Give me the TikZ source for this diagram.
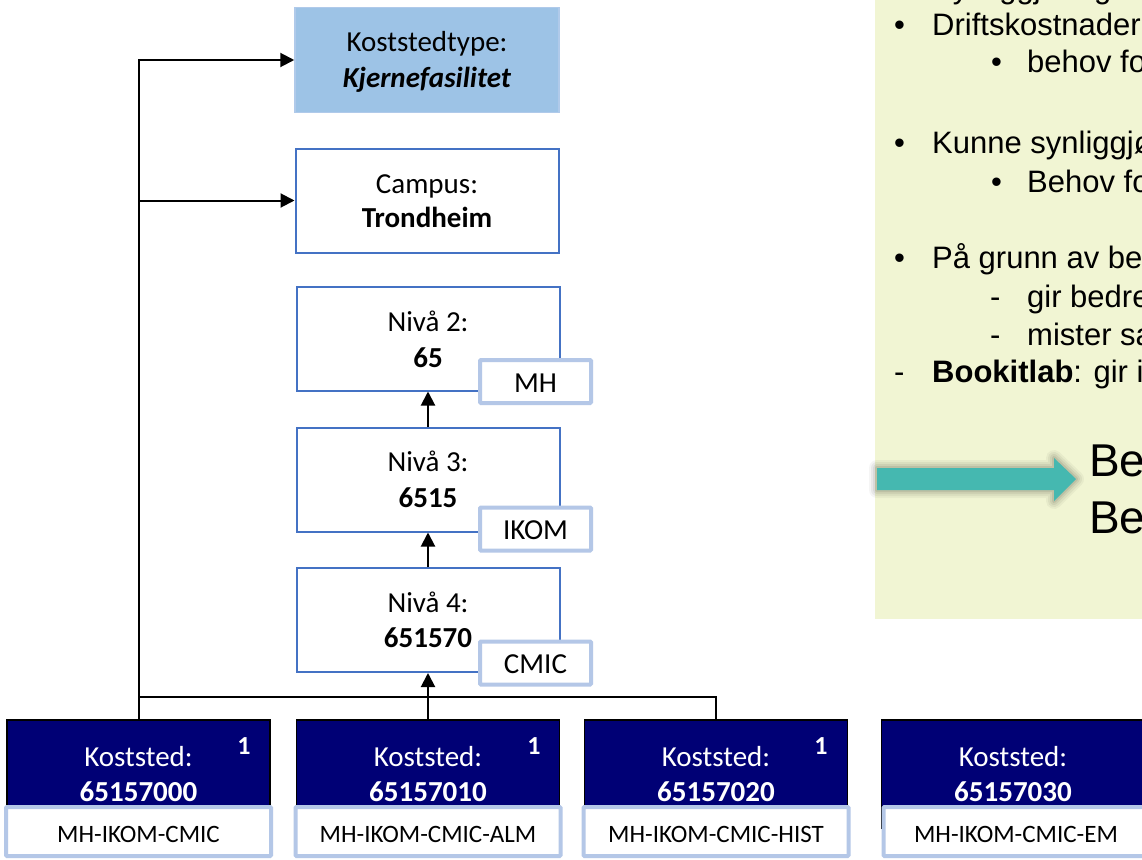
\documentclass[tikz,border=0pt]{standalone}
\usepackage{fontspec}
\setmainfont{Carlito}
\newfontfamily\arialf{Liberation Sans}
\usetikzlibrary{arrows.meta,calc}
\definecolor{navyk}{RGB}{0,0,117}
\definecolor{lvlblue}{HTML}{4472C4}
\definecolor{tagblue}{HTML}{B4C7E7}
\definecolor{ktfill}{HTML}{9DC3E6}
\definecolor{ktdraw}{HTML}{B0CAEA}
\definecolor{panelbg}{HTML}{F1F5D3}
\definecolor{tealarrow}{HTML}{45B8B0}
\begin{document}
\begin{tikzpicture}[x=1pt,y=-1pt,
  ktbox/.style={draw=ktdraw,line width=1.5pt,fill=ktfill,minimum width=264pt,minimum height=105pt,inner sep=0pt},
  lvl/.style={draw=lvlblue,line width=2pt,fill=white,minimum width=263pt,minimum height=104pt,inner sep=0pt},
  tagbox/.style={draw=tagblue,line width=4pt,fill=white,minimum width=111pt,minimum height=43pt,inner sep=0pt,rounded corners=1pt},
  kost/.style={draw=black,line width=1.5pt,fill=navyk,minimum width=263pt,minimum height=108pt,inner sep=0pt},
  ktag/.style={draw=tagblue,line width=4pt,fill=white,minimum width=265pt,minimum height=49pt,inner sep=0pt,rounded corners=1pt},
  lbl/.style={font=\fontsize{29}{35}\selectfont,inner sep=0pt,anchor=base},
  klbl/.style={font=\fontsize{29}{35}\selectfont,text=white,inner sep=0pt,anchor=base},
  one/.style={font=\bfseries\fontsize{26}{30}\selectfont,text=white,inner sep=0pt,anchor=base},
  tlbl/.style={font=\fontsize{25}{29}\selectfont,inner sep=0pt,anchor=base},
  conn/.style={draw=black,line width=2pt},
  busline/.style={draw=black,line width=1.5pt},
  tip/.style={-{Triangle[length=14pt,width=14pt]}},
  ptxt/.style={font=\arialf\fontsize{31}{37}\selectfont,text=black,anchor=base west,inner sep=0pt},
  bigtxt/.style={font=\arialf\fontsize{46}{55}\selectfont,text=black,anchor=base west,inner sep=0pt}
]
\useasboundingbox (0,0) rectangle (1142,859);
\clip (0,0) rectangle (1142,859);
\fill[white] (0,0) rectangle (1142,859);

% right text panel
\fill[panelbg] (875,-5) rectangle (1150,619);
\node[ptxt] (p0b) at (894,-1) {•};
\node[ptxt] (p0) at (932,-1) {Synliggjøring};
\node[ptxt] (p1b) at (894,36) {•};
\node[ptxt] (p1) at (932,36) {Driftskostnader};
\node[ptxt] (p2b) at (991,72) {•};
\node[ptxt] (p2) at (1027,72) {behov for};
\node[ptxt] (p3b) at (894,153) {•};
\node[ptxt] (p3) at (932,153) {Kunne synliggjøre};
\node[ptxt] (p4b) at (991,192) {•};
\node[ptxt] (p4) at (1027,192) {Behov for};
\node[ptxt] (p5b) at (894,268) {•};
\node[ptxt] (p5) at (932,268) {På grunn av be};
\node[ptxt] (p6b) at (990,307) {-};
\node[ptxt] (p6) at (1027,307) {gir bedre};
\node[ptxt] (p7b) at (990,345) {-};
\node[ptxt] (p7) at (1027,345) {mister sa};
\node[ptxt] (p8b) at (894,382) {-};
\node[ptxt] (p8) at (932,382) {\textbf{Bookitlab}: gir i};

% teal arrow with soft shadow
\foreach \w/\o in {16/0.04,12/0.05,8/0.06,4/0.08}{
  \draw[line width=\w pt,black,opacity=\o,line join=round]
    (877,468) -- (1054,468) -- (1054,458) -- (1076,479) -- (1054,501) -- (1054,490) -- (877,490) -- cycle;
}
\fill[tealarrow] (877,468) -- (1054,468) -- (1054,458) -- (1076,479) -- (1054,501) -- (1054,490) -- (877,490) -- cycle;
\node[bigtxt] (be1) at (1089,476) {Be};
\node[bigtxt] (be2) at (1089,533) {Be};

% upper boxes
\node[ktbox] (kt) at (427,60) {};
\node[lbl] (kta) at (427,52) {Koststedtype:};
\node[lbl] (ktb) at (427,87) {\textbf{\textit{Kjernefasilitet}}};

\node[lvl] (campus) at (427,200.5) {};
\node[lbl] (campusa) at (427,193) {Campus:};
\node[lbl] (campusb) at (427,227) {\textbf{Trondheim}};

\node[lvl] (n2) at (428,338.5) {};
\node[lbl] (n2a) at (428,331) {Nivå 2:};
\node[lbl] (n2b) at (428,367) {\textbf{65}};
\node[tagbox] (t2) at (535.5,381.5) {};
\node[lbl] (t2a) at (535.5,392) {MH};

\node[lvl] (n3) at (428,479.5) {};
\node[lbl] (n3a) at (428,471) {Nivå 3:};
\node[lbl] (n3b) at (428,507) {\textbf{6515}};
\node[tagbox] (t3) at (535.5,529) {};
\node[lbl] (t3a) at (535.5,539.5) {IKOM};

\node[lvl] (n4) at (428,620) {};
\node[lbl] (n4a) at (428,612) {Nivå 4:};
\node[lbl] (n4b) at (428,647) {\textbf{651570}};
\node[tagbox] (t4) at (535.5,663) {};
\node[lbl] (t4a) at (535.5,673) {CMIC};

% koststed boxes
\node[kost] (k1) at (138.5,774) {};
\node[klbl] (k1a) at (138.5,766) {Koststed:};
\node[klbl] (k1b) at (138.5,801) {\textbf{65157000}};
\node[one] (k1c) at (244,754) {1};
\node[ktag] (g1) at (138.5,831.5) {};
\node[tlbl] (g1a) at (138.5,842) {MH-IKOM-CMIC};

\node[kost] (k2) at (428,774) {};
\node[klbl] (k2a) at (428,766) {Koststed:};
\node[klbl] (k2b) at (428,801) {\textbf{65157010}};
\node[one] (k2c) at (534,754) {1};
\node[ktag] (g2) at (428,831.5) {};
\node[tlbl] (g2a) at (428,842) {MH-IKOM-CMIC-ALM};

\node[kost] (k3) at (716,774) {};
\node[klbl] (k3a) at (716,766) {Koststed:};
\node[klbl] (k3b) at (716,801) {\textbf{65157020}};
\node[one] (k3c) at (821,754) {1};
\node[ktag] (g3) at (716,831.5) {};
\node[tlbl] (g3a) at (716,842) {MH-IKOM-CMIC-HIST};

\node[kost] (k4) at (1013,774) {};
\node[klbl] (k4a) at (1013,766) {Koststed:};
\node[klbl] (k4b) at (1013,801) {\textbf{65157030}};
\node[ktag] (g4) at (1016,831.5) {};
\node[tlbl] (g4a) at (1016,842) {MH-IKOM-CMIC-EM};

% connectors
\draw[conn,tip] (k1.north) |- (kt.west);
\draw[conn,tip] (k1.north |- campus.west) -- (campus.west);
\coordinate (bus) at (138.5,697);
\draw[busline] (bus) -| (k3.north);
\draw[conn,tip] (k2.north) -- (n4.south);
\draw[conn,tip] (n4.north) -- (n3.south);
\draw[conn,tip] (n3.north) -- (n2.south);
\end{tikzpicture}
\end{document}
